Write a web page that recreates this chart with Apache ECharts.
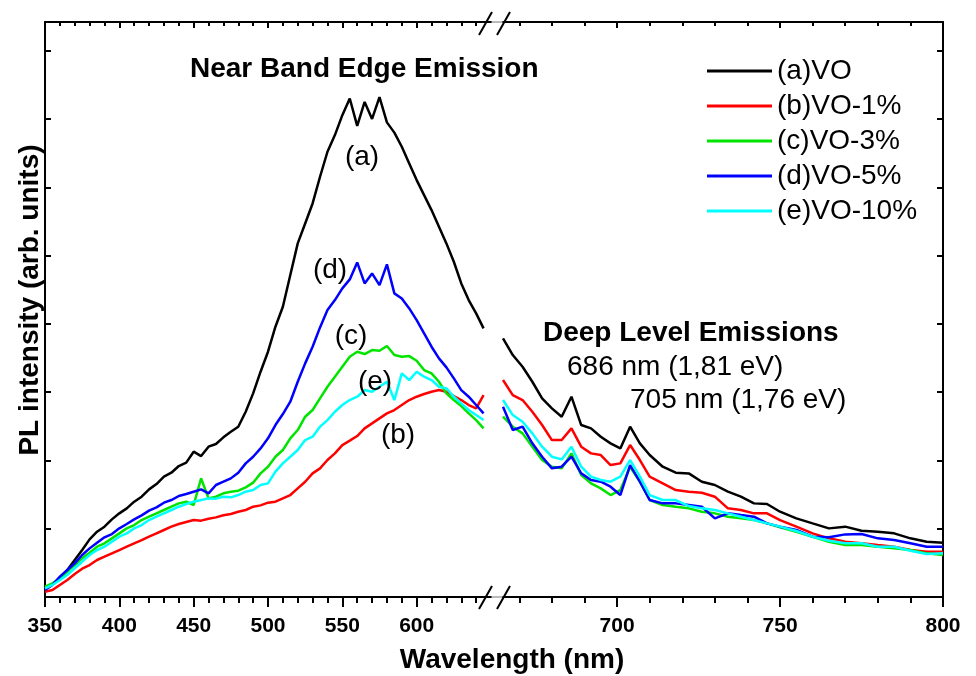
<!DOCTYPE html>
<html><head><meta charset="utf-8">
<script src="https://cdn.jsdelivr.net/npm/echarts@6/dist/echarts.min.js"></script>
<style>html,body{margin:0;padding:0;background:#fff}#c{width:976px;height:676px}</style>
</head><body><div id="c"></div>
<script>
const seriesNames = ['(a)VO','(b)VO-1%','(c)VO-3%','(d)VO-5%','(e)VO-10%'];
const seriesColors = ['#000000','#ff0000','#00e400','#0000ff','#00ffff'];

// Left segment (near band edge), wavelength in nm
const wlLeft = [350,355,360,365,370,375,380,385,390,395,400,405,410,415,420,425,430,435,440,445,
  450,455,460,465,470,475,480,485,490,495,500,505,510,515,520,525,530,535,540,545,
  550,555,560,565,570,575,580,585,590,595,600,605,610,615,620,625,630,635,640,645];
const aLeft = [127,190,273,395,542,688,844,956,1030,1137,1225,1298,1396,1469,1576,1654,1762,1820,1918,1967,
  2128,2064,2201,2240,2338,2420,2494,2713,2982,3299,3592,3958,4250,4714,5178,5470,5763,6154,6520,6764,
  7056,7300,6900,7250,7000,7320,6950,6800,6593,6349,6105,5885,5666,5422,5178,4909,4592,4348,4153,3933];
const bLeft = [78,102,176,249,337,415,468,542,590,639,688,737,786,834,883,932,981,1030,1069,1098,
  1127,1118,1147,1166,1196,1215,1249,1274,1322,1342,1381,1396,1444,1493,1591,1688,1810,1884,2006,2103,
  2225,2289,2357,2469,2542,2616,2689,2738,2811,2884,2933,2972,3006,3030,3006,2943,2884,2811,2762,2957];
const cLeft = [151,200,273,371,468,566,649,737,786,859,932,1005,1054,1127,1176,1225,1274,1322,1371,1396,
  1347,1737,1444,1469,1518,1542,1557,1606,1674,1810,1908,2054,2152,2323,2445,2640,2738,2908,3079,3226,
  3372,3518,3592,3558,3616,3606,3675,3543,3518,3528,3460,3323,3274,3152,2982,2884,2796,2689,2591,2469];
const dLeft = [102,176,298,395,493,615,712,795,874,922,1005,1069,1137,1196,1264,1313,1381,1420,1479,1508,
  1542,1576,1518,1640,1688,1737,1820,1957,2054,2176,2323,2518,2679,2860,3152,3421,3665,3948,4202,4348,
  4519,4651,4900,4592,4738,4568,4870,4446,4372,4226,4055,3860,3665,3494,3362,3201,3030,2933,2811,2689];
const eLeft = [127,176,249,322,420,517,615,688,737,810,883,932,1005,1054,1127,1176,1225,1274,1322,1362,
  1396,1420,1444,1440,1469,1459,1493,1542,1566,1640,1664,1835,1957,2054,2152,2298,2347,2494,2591,2713,
  2811,2884,2933,3030,3006,3079,3152,2884,3274,3177,3299,3226,3177,3079,3055,2933,2835,2738,2664,2591];

// Right segment (deep level), wavelength in nm
const wlRight = [665,668,671,674,677,680,683,686,689,692,695,698,701,704,707,710,714,718,722,726,
  730,734,738,742,746,750,755,760,765,770,775,780,785,790,795,800];
const aRight = [3787,3543,3372,3152,2908,2762,2640,2933,2518,2469,2347,2250,2176,2494,2250,2079,1908,1820,1810,1688,
  1640,1542,1469,1371,1362,1249,1152,1078,1005,1030,971,956,932,859,810,795];
const bRight = [3177,2957,2884,2713,2518,2298,2298,2469,2201,2103,2079,1932,1957,2225,2006,1762,1664,1566,1542,1527,
  1469,1298,1274,1225,1225,1127,1030,932,859,810,786,761,737,688,664,664];
const cRight = [2640,2494,2396,2201,2006,1908,1884,2103,1786,1664,1591,1493,1566,1908,1688,1420,1347,1322,1298,1249,
  1225,1176,1152,1127,1078,1020,956,883,810,761,761,737,712,688,639,615];
const dRight = [2786,2445,2494,2250,2054,1884,1908,2054,1810,1713,1688,1615,1493,1932,1688,1420,1371,1371,1347,1322,
  1152,1225,1200,1176,1078,1030,981,883,874,917,922,859,834,786,737,737];
const eRight = [2884,2664,2567,2396,2201,2054,2015,2201,1908,1762,1713,1688,1762,2006,1762,1493,1420,1420,1332,1298,
  1274,1225,1176,1127,1078,1030,966,883,825,786,786,737,737,678,630,639];

// Tick labels / positions
const majorLeft = [350,400,450,500,550,600];
const minorLeft = [360,370,380,390,410,420,430,440,460,470,480,490,510,520,530,540,560,570,580,590,610,620,630,640];
const majorRight = [700,750,800];
const minorRight = [670,680,690,710,720,730,740,760,770,780,790];

const FONT = '"Liberation Sans", Arial, Helvetica, sans-serif';
const leftSets = [aLeft,bLeft,cLeft,dLeft,eLeft];
const rightSets = [aRight,bRight,cRight,dRight,eRight];

function xAx(grid, pos, min, max, vals, len, inside, showLine, showLabel) {
  return {
    type: 'value', gridIndex: grid, position: pos, min: min, max: max,
    splitLine: {show: false},
    axisLine: {show: showLine, onZero: false, lineStyle: {color: '#000', width: 2}},
    axisTick: {show: true, inside: inside, length: len, customValues: vals, lineStyle: {color: '#000', width: 2}},
    axisLabel: showLabel ? {show: true, customValues: vals, margin: 19, color: '#000', fontSize: 21, fontWeight: 'bold', fontFamily: FONT}
                         : {show: false}
  };
}
function yAx(grid, pos) {
  return {
    type: 'value', gridIndex: grid, position: pos, min: 0, max: 8420, interval: 1000,
    splitLine: {show: false},
    axisLine: {show: true, onZero: false, lineStyle: {color: '#000', width: 2}},
    axisTick: {show: true, inside: true, length: 6, lineStyle: {color: '#000', width: 2}},
    axisLabel: {show: false}
  };
}

const series = [];
seriesNames.forEach((name, k) => {
  series.push({
    name: name, type: 'line', xAxisIndex: 0, yAxisIndex: 0, color: seriesColors[k],
    showSymbol: false, symbol: 'none', animation: false, z: 2 + k,
    lineStyle: {width: 2.5, color: seriesColors[k]},
    data: wlLeft.map((w, i) => [w, leftSets[k][i]])
  });
  series.push({
    name: name, type: 'line', xAxisIndex: 4, yAxisIndex: 1, color: seriesColors[k],
    showSymbol: false, symbol: 'none', animation: false, z: 2 + k,
    lineStyle: {width: 2.5, color: seriesColors[k]},
    data: wlRight.map((w, i) => [w, rightSets[k][i]])
  });
});

function txt(s, x, y, size, bold, align, rot) {
  return {
    type: 'text', x: x, y: y, rotation: rot || 0, z: 100,
    style: {text: s, fill: '#000', font: (bold ? 'bold ' : '') + size + 'px ' + FONT,
            align: align || 'left', verticalAlign: 'middle'}
  };
}
function seg(x1, y1, x2, y2, w, c) {
  return {type: 'line', z: 100, shape: {x1: x1, y1: y1, x2: x2, y2: y2}, style: {stroke: c || '#000', lineWidth: w}};
}

const option = {
  backgroundColor: '#fff',
  animation: false,
  grid: [
    {left: 45, top: 22, width: 446, height: 575},
    {left: 503, top: 22, width: 440, height: 575}
  ],
  xAxis: [
    xAx(0, 'bottom', 350, 650, majorLeft, 10, false, true, true),
    xAx(0, 'bottom', 350, 650, minorLeft, 6, false, false, false),
    xAx(0, 'top', 350, 650, majorLeft, 6, true, true, false),
    xAx(0, 'top', 350, 650, minorLeft, 4, true, false, false),
    xAx(1, 'bottom', 665, 800, majorRight, 10, false, true, true),
    xAx(1, 'bottom', 665, 800, minorRight, 6, false, false, false),
    xAx(1, 'top', 665, 800, majorRight, 6, true, true, false),
    xAx(1, 'top', 665, 800, minorRight, 4, true, false, false)
  ],
  yAxis: [yAx(0, 'left'), yAx(1, 'right')],
  legend: {
    data: seriesNames, orient: 'vertical', left: 702, top: 52,
    itemWidth: 65, itemHeight: 3, icon: 'rect', itemGap: 7, selectedMode: false,
    textStyle: {fontSize: 28, fontFamily: FONT, color: '#000', lineHeight: 28}
  },
  series: series,
  graphic: [
    seg(491, 597, 503, 597, 1, '#777'),
    seg(491, 22, 503, 22, 1, '#777'),
    seg(479, 609, 492, 586, 2), seg(497, 609, 510, 586, 2),
    seg(479, 35, 492, 12, 2), seg(497, 35, 510, 12, 2),
    txt('Wavelength (nm)', 512, 660, 28, true, 'center'),
    txt('PL intensity (arb. units)', 30, 300, 28, true, 'center', Math.PI / 2),
    txt('Near Band Edge Emission', 190, 69, 28, true),
    txt('Deep Level Emissions', 543, 333, 28, true),
    txt('686 nm (1,81 eV)', 567, 367, 28, false),
    txt('705 nm (1,76 eV)', 630, 400, 28, false),
    txt('(a)', 362, 157, 28, false, 'center'),
    txt('(d)', 330, 270, 28, false, 'center'),
    txt('(c)', 351, 336, 28, false, 'center'),
    txt('(e)', 375, 382, 28, false, 'center'),
    txt('(b)', 398, 435, 28, false, 'center')
  ]
};
const chart = echarts.init(document.getElementById('c'), null, {renderer: 'canvas'});
chart.setOption(option);
</script></body></html>
